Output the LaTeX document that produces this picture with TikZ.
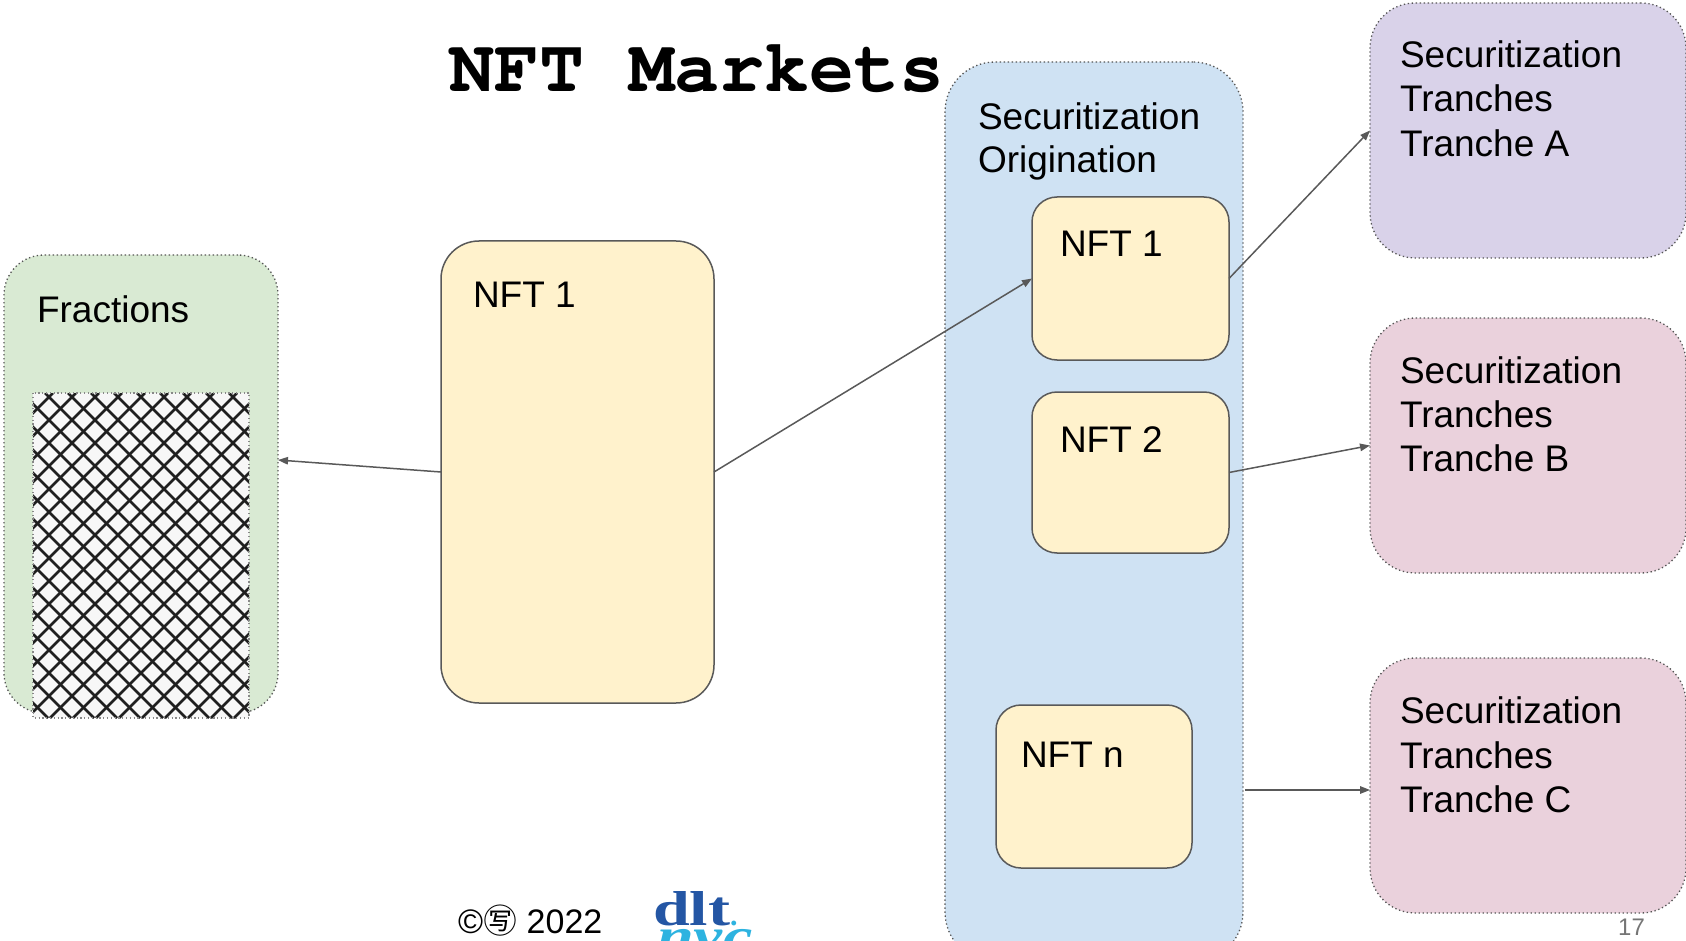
\documentclass[tikz,border=0pt]{standalone}
\usepackage{fontspec}
\setmainfont{Liberation Sans}
\newfontfamily\titlefont{texgyrecursor}[Extension=.otf, UprightFont=*-regular, BoldFont=*-bold]
\newfontfamily\cjkfont{Noto Sans CJK SC}
\newfontfamily\logofont{Liberation Serif}
\usetikzlibrary{arrows.meta}

\definecolor{fracgreen}{HTML}{D9EAD3}
\definecolor{origblue}{HTML}{CFE2F3}
\definecolor{nftyellow}{HTML}{FFF2CC}
\definecolor{trpurple}{HTML}{D9D2E9}
\definecolor{trpink}{HTML}{EAD1DC}
\definecolor{edgegray}{HTML}{595959}
\definecolor{dotgray}{HTML}{555555}
\definecolor{pagegray}{HTML}{757575}
\definecolor{logoblue}{HTML}{2456A4}
\definecolor{logocyan}{HTML}{2DB3E0}

\tikzset{
  box/.style={rectangle, inner sep=0pt, outer sep=0pt, anchor=north west},
  dotbox/.style={box, draw=dotgray, line width=1.3pt, dash pattern=on 1.3pt off 2.7pt},
  nftbox/.style={box, draw=edgegray, line width=1.5pt, fill=nftyellow},
  lbl/.style={anchor=base west, inner sep=0pt, outer sep=0pt, align=left,
              font=\fontsize{37}{44}\selectfont},
  conn/.style={draw=edgegray, line width=1.5pt, -{Triangle[length=10pt,width=7.5pt]}},
  hatchline/.style={line width=2.7pt, black!88},
}

\begin{document}
\begin{tikzpicture}[x=1pt,y=-1pt]
\useasboundingbox (0,0) rectangle (1686,941);
\clip (0,0) rectangle (1686,941);

% title
\node[anchor=base west, inner sep=0pt] (title) at (449,92)
  {\titlefont\bfseries\fontsize{75}{80}\selectfont NFT Markets};

% Fractions
\node[dotbox, fill=fracgreen, rounded corners=40pt,
      minimum width=274pt, minimum height=458pt] (frac) at (4,255) {};
\node[lbl] (fractxt) at (37,322) {Fractions};
\node[box, minimum width=216pt, minimum height=325pt, fill=white!97!black] (hatch) at (33,393) {};
\begin{scope}
  \clip (hatch.north west) rectangle (hatch.south east);
  \foreach \i in {0,...,25} {
    \draw[hatchline] (-300+\i*23,393) -- ++(325,325);
    \draw[hatchline] (30+\i*23,393) -- ++(-325,325);
  }
\end{scope}
\draw[draw=dotgray!70, line width=1.2pt, dash pattern=on 1.2pt off 2.6pt]
  (hatch.north west) rectangle (hatch.south east);

% big NFT 1
\node[nftbox, rounded corners=38pt, minimum width=273pt, minimum height=462pt] (big) at (441,241) {};
\node[lbl] (bigtxt) at (473,308) {NFT 1};

% Securitization Origination
\node[dotbox, fill=origblue, rounded corners=50pt,
      minimum width=298pt, minimum height=900pt] (orig) at (945,62) {};
\node[lbl] (origtxt1) at (978,130) {Securitization};
\node[lbl] (origtxt2) at (978,173) {Origination};

\node[nftbox, rounded corners=25pt, minimum width=197pt, minimum height=163pt] (n1) at (1032,197) {};
\node[lbl] (n1txt) at (1060,257) {NFT 1};
\node[nftbox, rounded corners=25pt, minimum width=197pt, minimum height=161pt] (n2) at (1032,392) {};
\node[lbl] (n2txt) at (1060,452) {NFT 2};
\node[nftbox, rounded corners=25pt, minimum width=196pt, minimum height=163pt] (nn) at (996,705) {};
\node[lbl] (nntxt) at (1021,767) {NFT n};

% Tranches
\node[dotbox, fill=trpurple, rounded corners=45pt, minimum width=316pt, minimum height=255pt] (ta) at (1370,3) {};
\node[lbl] (tatxt1) at (1400,68) {Securitization};
\node[lbl] (tatxt2) at (1400,112) {Tranches};
\node[lbl] (tatxt3) at (1400,157) {Tranche A};

\node[dotbox, fill=trpink, rounded corners=45pt, minimum width=316pt, minimum height=255pt] (tb) at (1370,318) {};
\node[lbl] (tbtxt1) at (1400,383) {Securitization};
\node[lbl] (tbtxt2) at (1400,427) {Tranches};
\node[lbl] (tbtxt3) at (1400,471) {Tranche B};

\node[dotbox, fill=trpink, rounded corners=45pt, minimum width=316pt, minimum height=255pt] (tc) at (1370,658) {};
\node[lbl] (tctxt1) at (1400,723) {Securitization};
\node[lbl] (tctxt2) at (1400,768) {Tranches};
\node[lbl] (tctxt3) at (1400,812) {Tranche C};

% connectors
\draw[conn] (big.west) -- ([yshift=24pt]frac.east);
\draw[conn] (big.east) -- (n1.west);
\draw[conn] (n1.east) -- (ta.west);
\draw[conn] (n2.east) -- (tb.west);
\coordinate (cstart) at (1245,790);
\draw[conn] (cstart) -- (cstart -| tc.west);

% footer
\node[anchor=base west, inner sep=0pt, font=\fontsize{34}{40}\selectfont] (copy) at (458,933)
  {©{\cjkfont ㊢} 2022};
\node[anchor=base west, inner sep=0pt, text=logoblue] (logo1) at (653,925)
  {\scalebox{1.35}[1]{\logofont\bfseries\fontsize{49}{50}\selectfont dlt}};
\node[anchor=base west, inner sep=0pt, text=logocyan] (logodot) at (730,925)
  {\logofont\bfseries\fontsize{30}{30}\selectfont .};
\node[anchor=base west, inner sep=0pt, text=logocyan] (logo2) at (657,952)
  {\scalebox{1.35}[1]{\logofont\bfseries\itshape\fontsize{49}{50}\selectfont nyc}};
\node[anchor=base west, inner sep=0pt, text=pagegray, font=\fontsize{24}{28}\selectfont] (pnum) at (1618,935) {17};
\end{tikzpicture}
\end{document}
